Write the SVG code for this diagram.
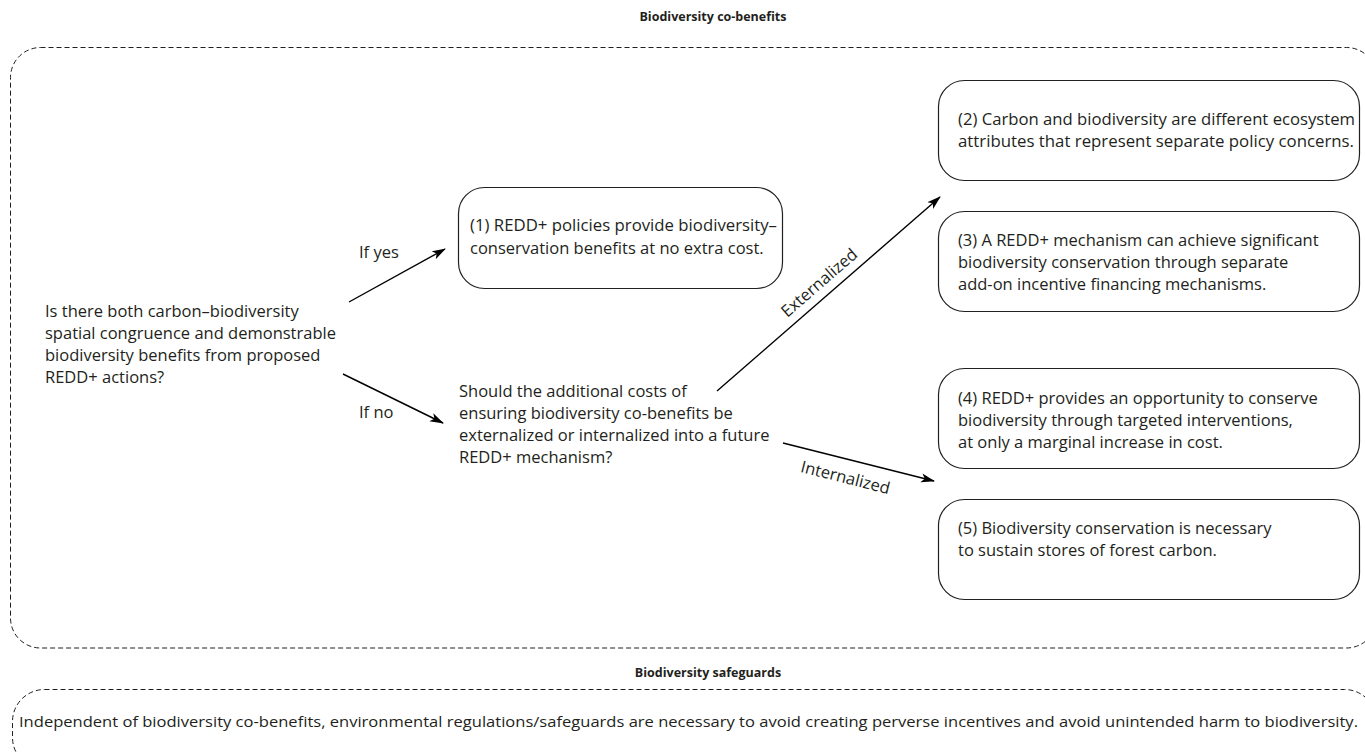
<svg xmlns="http://www.w3.org/2000/svg" width="1365" height="752" viewBox="0 0 1365 752">
<style>
  .t{font-family:"Open Sans","Noto Sans","Liberation Sans",sans-serif;font-size:16.5px;fill:#231f20}
  .h{font-family:"Open Sans","Noto Sans","Liberation Sans",sans-serif;font-size:12.5px;font-weight:bold;fill:#231f20}
  .box{fill:none;stroke:#231f20;stroke-width:1.2}
  .dash{fill:none;stroke:#231f20;stroke-width:1;stroke-dasharray:5,3}
  .arr{fill:none;stroke:#000;stroke-width:1.4;marker-end:url(#ah)}
</style>
<defs>
  <marker id="ah" markerUnits="userSpaceOnUse" markerWidth="14" markerHeight="10" viewBox="0 0 14 10" refX="13" refY="5" orient="auto">
    <path d="M0,0.5 L14,5 L0,9.5 L3.5,5 Z" fill="#000"/>
  </marker>
</defs>
<rect width="1365" height="752" fill="#fff"/>

<g id="cobenefits-frame">
  <rect class="dash" x="10.5" y="47.5" width="1366" height="600.5" rx="30" ry="30"/>
  <text class="h" x="713" y="21" text-anchor="middle">Biodiversity co-benefits</text>
</g>

<g id="safeguards-frame">
  <rect class="dash" x="12.5" y="689.5" width="1364" height="80" rx="32" ry="32"/>
  <text class="h" x="708" y="677" text-anchor="middle">Biodiversity safeguards</text>
  <text class="t" x="19" y="727" textLength="1339" lengthAdjust="spacingAndGlyphs" style="font-size:15px">Independent of biodiversity co-benefits, environmental regulations/safeguards are necessary to avoid creating perverse incentives and avoid unintended harm to biodiversity.</text>
</g>

<g id="q1">
  <text class="t" x="45" y="317">Is there both carbon–biodiversity</text>
  <text class="t" x="45" y="339">spatial congruence and demonstrable</text>
  <text class="t" x="45" y="361">biodiversity benefits from proposed</text>
  <text class="t" x="45" y="383">REDD+ actions?</text>
</g>

<g id="q2">
  <text class="t" x="459" y="397">Should the additional costs of</text>
  <text class="t" x="459" y="419">ensuring biodiversity co-benefits be</text>
  <text class="t" x="459" y="441">externalized or internalized into a future</text>
  <text class="t" x="459" y="463">REDD+ mechanism?</text>
</g>

<g id="n1">
  <rect class="box" x="458.5" y="187.5" width="324" height="101" rx="26"/>
  <text class="t" x="470" y="231" textLength="307" lengthAdjust="spacingAndGlyphs">(1) REDD+ policies provide biodiversity–</text>
  <text class="t" x="470" y="254">conservation benefits at no extra cost.</text>
</g>

<g id="n2">
  <rect class="box" x="938.5" y="80.5" width="421" height="100" rx="26"/>
  <text class="t" x="958" y="125" textLength="397" lengthAdjust="spacingAndGlyphs">(2) Carbon and biodiversity are different ecosystem</text>
  <text class="t" x="958" y="147" textLength="396" lengthAdjust="spacingAndGlyphs">attributes that represent separate policy concerns.</text>
</g>

<g id="n3">
  <rect class="box" x="938.5" y="211.5" width="421" height="100" rx="26"/>
  <text class="t" x="958" y="246">(3) A REDD+ mechanism can achieve significant</text>
  <text class="t" x="958" y="268">biodiversity conservation through separate</text>
  <text class="t" x="958" y="290">add-on incentive financing mechanisms.</text>
</g>

<g id="n4">
  <rect class="box" x="938.5" y="368.5" width="421" height="100" rx="26"/>
  <text class="t" x="958" y="404">(4) REDD+ provides an opportunity to conserve</text>
  <text class="t" x="958" y="426">biodiversity through targeted interventions,</text>
  <text class="t" x="958" y="448">at only a marginal increase in cost.</text>
</g>

<g id="n5">
  <rect class="box" x="938.5" y="499.5" width="421" height="100" rx="26"/>
  <text class="t" x="958" y="534">(5) Biodiversity conservation is necessary</text>
  <text class="t" x="958" y="556">to sustain stores of forest carbon.</text>
</g>

<g id="connectors">
  <line class="arr" x1="349" y1="302" x2="445" y2="249"/>
  <line class="arr" x1="343" y1="374" x2="443" y2="423"/>
  <line class="arr" x1="717" y1="391" x2="940" y2="197"/>
  <line class="arr" x1="783" y1="443" x2="934" y2="481"/>
  <text class="t" x="359" y="258">If yes</text>
  <text class="t" x="359" y="418">If no</text>
  <text class="t" x="823" y="287" text-anchor="middle" transform="rotate(-41 823 287)">Externalized</text>
  <text class="t" x="844" y="483" text-anchor="middle" transform="rotate(14.2 844 483)">Internalized</text>
</g>
</svg>
